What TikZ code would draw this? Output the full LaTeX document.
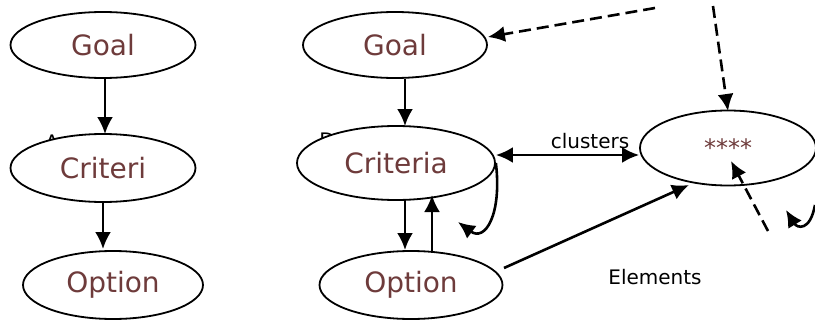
\documentclass[tikz,border=0pt]{standalone}
\usepackage{fontspec}
\setmainfont{DejaVu Sans}
\usetikzlibrary{arrows.meta,shapes.geometric}
\definecolor{lbl}{HTML}{6E3B3B}
\tikzset{
  ell/.style={ellipse,draw,fill=white,line width=1.8pt,inner sep=0pt,font=\fontsize{28}{30}\selectfont,text=lbl},
  arr/.style={line width=2.6pt,-{Latex[length=17pt,width=16pt]}},
  darr/.style={line width=2.6pt,{Latex[length=17pt,width=16pt]}-{Latex[length=17pt,width=16pt]}},
  dash arr/.style={arr,dash pattern=on 12pt off 6pt},
  small/.style={font=\fontsize{20}{22}\selectfont,inner sep=0pt},
  frag/.style={font=\fontsize{20}{22}\selectfont,inner sep=0pt,anchor=base}
}
\begin{document}
\begin{tikzpicture}[x=1pt,y=-1pt]
\useasboundingbox (0,0) rectangle (815,324);
% fragments hidden behind ellipses
\node[frag] (fa) at (52,149) {A};
\node[frag] (fd) at (327,147) {D};
% left column
\node[ell,minimum width=185pt,minimum height=66pt] (g1) at (103,45) {Goal};
\node[ell,minimum width=185pt,minimum height=68pt] (c1) at (103,168) {Criteri};
\node[ell,minimum width=180pt,minimum height=68pt] (o1) at (113,285) {Option};
% right column
\node[ell,minimum width=184pt,minimum height=66pt] (g2) at (395,45) {Goal};
\node[ell,minimum width=198pt,minimum height=74pt] (c2) at (396,163) {Criteria};
\node[ell,minimum width=183pt,minimum height=68pt] (o2) at (411,285) {Option};
\node[ell,minimum width=176pt,minimum height=75pt,font=\fontsize{24}{26}\selectfont] (s) at (728,148) {****};
% labels
\node[small] (cl) at (590,141) {clusters};
\node[small] (el) at (655,277) {Elements};
% free ends
\coordinate (d1) at (655,8);
\coordinate (d2) at (713,6);
\coordinate (d3) at (768,231);
\coordinate (l2) at (815,205);
% left arrows
\draw[arr] (g1.south -| 105,0) -- (105,134);
\draw[arr] (c1.south -| 103,0) -- (103,249);
% right arrows
\draw[arr] (405,79) -- (405,126);
\draw[arr] (405,199) -- (405,250);
\draw[arr] (432,251) -- (432,195);
\draw[darr] (c2.east |- 0,155) -- (s.west |- 0,155);
\draw[arr] (504,268) -- (689,185);
\draw[arr] (c2.east) .. controls (502,215) and (485,242) .. (458,222);
% dashed arrows
\draw[dash arr] (d1) -- (g2.east |- 0,37);
\draw[dash arr] (d2) -- (728,111);
\draw[dash arr] (d3) -- (731,161);
\draw[arr] (l2) .. controls (810,232) and (797,228) .. (786,210);
\end{tikzpicture}
\end{document}
